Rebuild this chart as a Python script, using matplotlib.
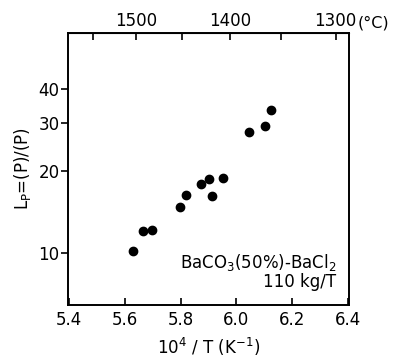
import numpy as np
import matplotlib.pyplot as plt

# data
inv_T = [5.627, 5.665, 5.698, 5.797, 5.819, 5.872, 5.901, 5.912, 5.953, 6.045, 6.102, 6.125]
Lp = [10.2, 12.0, 12.1, 14.7, 16.4, 18.0, 18.7, 16.2, 18.8, 27.8, 29.3, 33.6]

x_ticks = [5.4, 5.6, 5.8, 6.0, 6.2, 6.4]
y_ticks = [10, 20, 30, 40]
top_major = [1500, 1400, 1300]
top_minor = [1550, 1450, 1350]

def c_to_inv(t):
	return 1e4 / (np.asarray(t, dtype=float) + 273.15)

def inv_to_c(x):
	return 1e4 / np.asarray(x, dtype=float) - 273.15

plt.rcParams['font.family'] = 'DejaVu Sans'
fig = plt.figure(figsize=(3.95, 3.61), dpi=100)
ax = fig.add_axes([0.172, 0.155, 0.712, 0.754])

ax.plot(inv_T, Lp, 'o', color='black', markersize=6)
ax.set_yscale('log')
ax.set_xlim(5.395, 6.405)
ax.set_ylim(6.44, 64.4)

ax.set_xticks(x_ticks)
ax.set_xticklabels(["%.1f" % v for v in x_ticks])
ax.set_yticks(y_ticks)
ax.set_yticklabels([str(v) for v in y_ticks])
ax.yaxis.set_minor_locator(plt.NullLocator())
ax.tick_params(axis='x', direction='in', length=5, width=1.2, labelsize=12, pad=4)
ax.tick_params(axis='y', direction='out', length=5, width=1.2, labelsize=12, pad=1)
for s in ax.spines.values():
	s.set_linewidth(1.4)

top = ax.secondary_xaxis('top', functions=(inv_to_c, c_to_inv))
top.set_xticks(top_major)
top.set_xticklabels([str(v) for v in top_major])
top.set_xticks(top_minor, minor=True)
top.tick_params(which='both', direction='in', length=5, width=1.2, labelsize=12, pad=2)
fig.text(0.905, 0.91 + 0.006, "(°C)", fontsize=11.5, ha='left', va='bottom')

ax.set_xlabel("10$^4$ / T (K$^{-1}$)", fontsize=12, labelpad=5)
ax.set_ylabel("L$_\\mathrm{P}$=(P)/(P)", fontsize=12, labelpad=4)

ax.text(0.955, 0.155, "BaCO$_3$(50%)-BaCl$_2$", transform=ax.transAxes, fontsize=12, ha='right', va='center')
ax.text(0.955, 0.085, "110 kg/T", transform=ax.transAxes, fontsize=12, ha='right', va='center')

fig.savefig("out.png", dpi=100)
